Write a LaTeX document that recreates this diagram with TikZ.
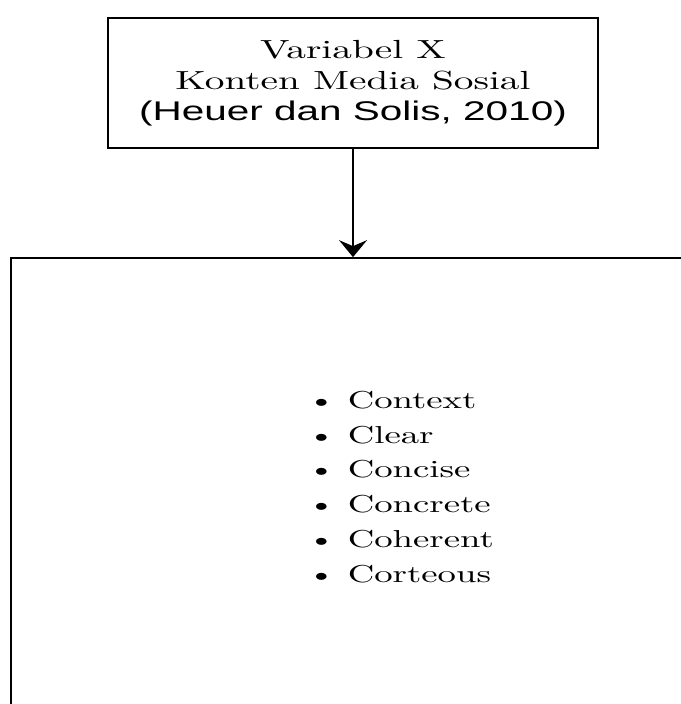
\documentclass[tikz,border=0pt]{standalone}
\usepackage{fontspec}
\setmainfont{lmroman10-regular}[Extension=.otf, FakeStretch=1.5]
\newfontfamily\citefont{Liberation Sans}[FakeStretch=1.5]
\usetikzlibrary{arrows.meta,positioning}

\begin{document}
\begin{tikzpicture}[
  x=1pt, y=-1pt,
  box/.style={draw, line width=1.7pt, inner sep=0pt},
  ar/.style={-{Stealth[length=17pt, width=28pt, inset=6pt]}, line width=1.7pt}
]
\useasboundingbox (0,0) rectangle (680,704);
\node[box, minimum width=490pt, minimum height=130pt, align=center,
      font=\fontsize{26.2}{31}\selectfont] (varx) at (353,83)
     {Variabel X\\Konten Media Sosial\\
      {\citefont\fontsize{27}{31}\selectfont (Heuer dan Solis, 2010)}};
\node[box, minimum width=690pt, minimum height=480pt] (dims) at (356,498) {};
\node[anchor=west, align=left, inner sep=0pt,
      font=\fontsize{24.5}{34.8}\selectfont] (items) at (307,487)
     {\textbullet\hspace{12pt}Context\\
      \textbullet\hspace{12pt}Clear\\
      \textbullet\hspace{12pt}Concise\\
      \textbullet\hspace{12pt}Concrete\\
      \textbullet\hspace{12pt}Coherent\\
      \textbullet\hspace{12pt}Corteous};

\draw[ar] (varx.south) -- (varx.south |- dims.north);
\end{tikzpicture}
\end{document}
